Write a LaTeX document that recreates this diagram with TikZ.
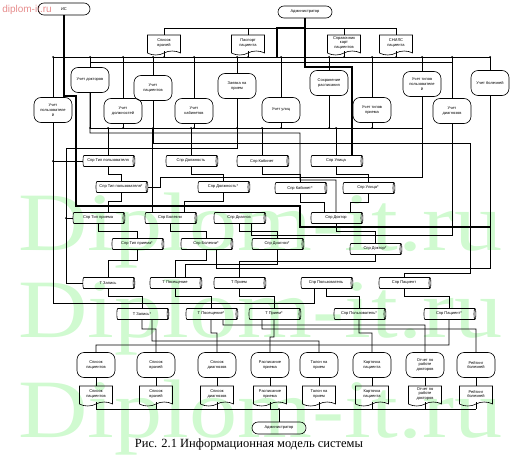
\documentclass[tikz,border=0pt]{standalone}
\usepackage{fontspec}
\setmainfont{Liberation Sans}
\newfontfamily\serifcap{Liberation Serif}
\usetikzlibrary{shapes.symbols,shapes.geometric}
\newcommand{\mfont}{\fontsize{4}{4.9}\selectfont}
\definecolor{wmgreen}{RGB}{208,250,208}
\definecolor{wmpink}{RGB}{230,140,140}

\begin{document}
\begin{tikzpicture}[x=1pt, y=-1pt, line width=0.6pt,
		term/.style={draw, rounded corners=6pt, minimum height=12pt, minimum width=54pt, inner sep=1pt, font=\mfont},
		proc/.style={draw, rounded corners=7pt, minimum width=38pt, minimum height=25pt, inner sep=1pt, align=center, font=\mfont},
		doc/.style={draw, tape, tape bend top=none, tape bend height=4pt, minimum width=33pt, minimum height=20pt, inner sep=1pt, align=center, font=\mfont},
		store/.style={draw, cylinder, aspect=0.35, minimum height=52pt, minimum width=11pt, inner sep=1pt, font=\mfont},
		heavy/.style={line width=1.4pt}]

	\useasboundingbox (0,0) rectangle (514,460);

	% watermark
	\node[anchor=base west, text=wmgreen, font=\serifcap\fontsize{83}{83}\selectfont, inner sep=0pt] (wm1) at (18,250) {\scalebox{1.16}[1]{Diplom-it.ru}};
	\node[anchor=base west, text=wmgreen, font=\serifcap\fontsize{83}{83}\selectfont, inner sep=0pt] (wm2) at (18,337) {\scalebox{1.16}[1]{Diplom-it.ru}};
	\node[anchor=base west, text=wmgreen, font=\serifcap\fontsize{83}{83}\selectfont, inner sep=0pt] (wm3) at (18,437) {\scalebox{1.16}[1]{Diplom-it.ru}};
	\node[anchor=west, text=wmpink, font=\fontsize{10}{10}\selectfont, inner sep=0pt] (wm0) at (2,10) {diplom-it.ru};

	% top
	\node[term, minimum width=52pt] (is) at (64,9) {ИС};
	\node[term] (adm) at (305,12) {Администратор};
	\node[doc] (dvr) at (164,43) {Список\\врачей};
	\node[doc] (dpas) at (248,43) {Паспорт\\пациента};
	\node[doc] (dspr) at (344,43) {Справочник\\карт\\пациентов};
	\node[doc] (dsnils) at (396,43) {СНИЛС\\пациента};

	% processes
	\node[proc] (udok) at (90,80) {Учет докторов};
	\node[proc] (upac) at (153,88) {Учет\\пациентов};
	\node[proc] (zayav) at (237,86) {Заявка на\\прием};
	\node[proc] (sohr) at (329,83) {Сохранение\\расписания};
	\node[proc] (utpol) at (422,84) {Учет типов\\пользователе\\й};
	\node[proc] (ubol) at (490,83) {Учет болезней};
	\node[proc] (upol) at (53,110) {Учет\\пользователе\\й};
	\node[proc] (udolzh) at (123,111) {Учет\\должностей};
	\node[proc] (ukab) at (194,111) {Учет\\кабинетов};
	\node[proc] (ulic) at (281,110) {Учет улиц};
	\node[proc] (utpr) at (372,110) {Учет типов\\приема};
	\node[proc] (udiag) at (452,111) {Учет\\диагнозов};

	% stores
	\node[store] (stpol) at (108,161) {Спр Тип пользователя};
	\node[store] (sdol) at (191,161) {Спр Должность};
	\node[store] (skab) at (262,161) {Спр Кабинет};
	\node[store] (sul) at (336,161) {Спр Улица};
	\node[store] (stpolz) at (121,187) {Спр Тип пользователя*};
	\node[store] (sdolz) at (223,187) {Спр Должность*};
	\node[store] (skabz) at (300,188) {Спр Кабинет*};
	\node[store] (sulz) at (368,188) {Спр Улица*};
	\node[store] (stpr) at (98,218) {Спр Тип приема};
	\node[store] (sbol) at (170,218) {Спр Болезни};
	\node[store] (sdiag) at (239,218) {Спр Диагноз};
	\node[store] (sdok) at (336,218) {Спр Доктор};
	\node[store] (stprz) at (137,244) {Спр Тип приема*};
	\node[store] (sbolz) at (206,244) {Спр Болезни*};
	\node[store] (sdiagz) at (277,244) {Спр Диагноз*};
	\node[store] (sdokz) at (375,249) {Спр Доктор*};
	\node[store] (tzap) at (108,283) {Т Запись};
	\node[store] (tpos) at (175,283) {Т Посещение};
	\node[store] (tpri) at (239,283) {Т Прием};
	\node[store] (spol) at (326,283) {Спр Пользователь};
	\node[store] (spac) at (404,283) {Спр Пациент};
	\node[store] (tzapz) at (142,314) {Т Запись*};
	\node[store] (tposz) at (211,314) {Т Посещение*};
	\node[store] (tpriz) at (274,314) {Т Прием*};
	\node[store] (spolz) at (359,314) {Спр Пользователь*};
	\node[store] (spacz) at (449,314) {Спр Пациент*};

	% reports
	\foreach \i/\x/\t in {1/96/{Список\\пациентов}, 2/156/{Список\\врачей}, 3/217/{Список\\диагнозов}, 4/270/{Расписание\\приема}, 5/319/{Талон на\\прием}, 6/372/{Карточка\\пациента}, 7/425/{Отчет по\\работе\\докторов}, 8/476/{Рейтинг\\болезней}} {
			\node[proc] (rp\i) at (\x,365) {\t};
			\node[doc] (rd\i) at (\x,394) {\t};
			\draw (rp\i.south) -- (rd\i.north);
		}
	\node[term] (adm2) at (279,428) {Администратор};
	\node[font=\serifcap\fontsize{12.5}{13}\selectfont] (cap) at (249,444) {Рис. 2.1 Информационная модель системы};

	% buses
	\coordinate (tb) at (0,28);
	\coordinate (mb) at (0,57);
	\coordinate (sb) at (0,62);
	\coordinate (pb) at (0,128);
	\coordinate (rb) at (0,409);

	\draw (dvr.north) |- (dsnils.north |- tb) -- (dsnils.north);
	\draw (dpas.north) -- (dpas.north |- tb);
	\draw (dspr.north) -- (dspr.north |- tb);
	\draw[heavy] (adm.south) -- (adm.south |- mb);
	\draw[heavy] (adm.south |- tb) -| (277,57);
	\draw[heavy] (adm.south |- mb) -- (305,67) -| ([xshift=16pt]sul.north);
	\draw (upol.north |- mb) -- (ubol.north |- mb);
	\draw (udok.north |- sb) -- (udiag.north |- sb);
	\foreach \d in {dvr,dpas,dspr,dsnils} {
			\draw (\d.south) -- (\d.south |- mb);
			\fill (\d.south |- mb) circle (1pt);
		}
	\foreach \p in {udok,upac,zayav,sohr,utpol,ubol,upol,udolzh,ukab,ulic,utpr,udiag} {
			\draw (\p.north) -- (\p.north |- mb);
			\fill (\p.north |- mb) circle (1pt);
		}

	% IS line
	\draw[heavy] (is.south) |- (76,96) -- (76,206) -| (300,227) -- (490,227);

	% processes to stores
	\draw (udok.south |- pb) -- (utpol.south |- pb);
	\foreach \p in {udok,udolzh,upac,ukab,zayav,ulic,sohr,utpr} {
			\draw (\p.south) -- (\p.south |- pb);
			\fill (\p.south |- pb) circle (1pt);
		}
	\foreach \s in {stpol,sdol,skab,sul} {
			\draw (\s.north |- pb) -- (\s.north);
			\fill (\s.north |- pb) circle (1pt);
		}
	\draw ([xshift=-18pt]sbol.north) -- ([xshift=-18pt]sbol.north |- pb);
	\draw (udok.south) |- (300,133) |- (336,180) -- (sdok.north);
	\draw (utpol.south) |- (160,177) |- (stpolz.east);
	\draw (upac.south) |- (470,143) -- (470,273) -| (spac.north);
	\draw (udiag.south) -- (452,235) -| ([xshift=12pt]sdiag.south);
	\draw (ubol.south) -- (490,268) -| ([xshift=10pt]sbolz.south);
	\draw (upol.south) -- (53,303) -| ([xshift=-12pt]spol.south);
	\draw (stpol.west) -- (53,161);
	\fill (53,161) circle (1pt);
	\draw (zayav.south) |- (66,148) |- (tzap.west);
	\draw (stpr.west) -- (66,218);
	\fill (66,218) circle (1pt);

	% store pairs
	\foreach \a/\b in {stpol/stpolz,sdol/sdolz,skab/skabz,sul/sulz,stpr/stprz,sbol/sbolz,sdiag/sdiagz,sdok/sdokz,tzap/tzapz,tpos/tposz,tpri/tpriz,spol/spolz,spac/spacz}
	\draw (\a.south) -- ++(0,7) -| (\b.north);
	\draw (stpolz.south) -- ++(0,8) -| ([xshift=10pt]stpr.north);
	\draw (sdolz.south) -- ++(0,8) -| ([xshift=14pt]sbol.north);
	\draw (skabz.south) -- ++(0,8) -| ([xshift=-12pt]sdok.north);
	\draw (sulz.south) -- ++(0,8) -| ([xshift=14pt]sdok.north);
	\draw (stprz.south) -- ++(0,10) -| (tzap.north);
	\draw (sbolz.south) -- ++(0,10) -| (tpos.north);
	\draw (sdiagz.south) -- ++(0,14) -| ([xshift=10pt]tpos.north);
	\draw (sdokz.south) -- ++(0,6) -| (tpri.north);

	% stores to reports
	\draw (rp1.north) |- (449,345) -- (spacz.south);
	\draw (rp2.north) |- (142,329) -- (tzapz.south);
	\draw (rp3.north) |- (211,333) -- (tposz.south);
	\draw (rp4.north) |- (274,337) -- (tpriz.south);
	\draw (rp5.north) |- (152,341) -- ([xshift=10pt]tzapz.south);
	\draw (rp6.north) |- (359,333) -- (spolz.south);
	\draw (rp7.north) |- (223,325) -- ([xshift=12pt]tposz.south);
	\draw (rp8.north) |- (262,329) -- ([xshift=-12pt]tpriz.south);

	% reports to admin
	\foreach \i in {1,...,8} \draw (rd\i.south) -- (rd\i.south |- rb);
	\draw (rd1.south |- rb) -- (rd8.south |- rb);
	\draw (adm2.north) -- (adm2.north |- rb);
	\fill (adm2.north |- rb) circle (1pt);
\end{tikzpicture}
\end{document}
